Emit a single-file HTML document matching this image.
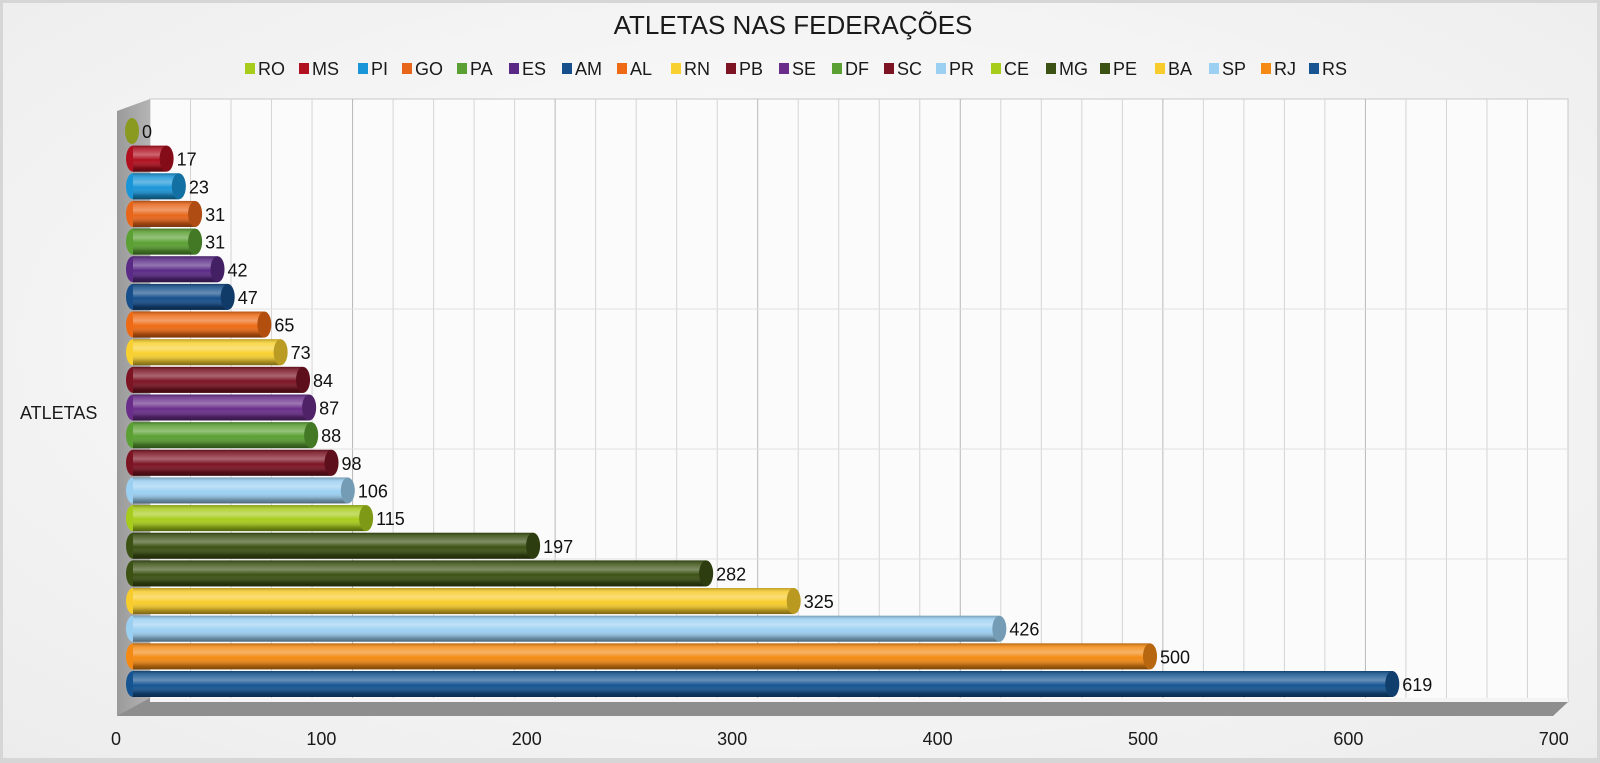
<!DOCTYPE html>
<html><head><meta charset="utf-8"><style>
html,body{margin:0;padding:0;width:1600px;height:763px;overflow:hidden;background:#fff}
svg{display:block;font-family:"Liberation Sans",sans-serif}
</style></head><body>
<svg width="1600" height="763" viewBox="0 0 1600 763" xmlns="http://www.w3.org/2000/svg">
<defs>
<radialGradient id="bg" cx="0.5" cy="0.45" r="0.75"><stop offset="0" stop-color="#ffffff"/><stop offset="1" stop-color="#ececec"/></radialGradient>
<linearGradient id="shade" x1="0" y1="0" x2="0" y2="1">
<stop offset="0" stop-color="#000" stop-opacity="0.25"/>
<stop offset="0.15" stop-color="#fff" stop-opacity="0.15"/>
<stop offset="0.35" stop-color="#fff" stop-opacity="0.35"/>
<stop offset="0.55" stop-color="#fff" stop-opacity="0"/>
<stop offset="0.85" stop-color="#000" stop-opacity="0.3"/>
<stop offset="1" stop-color="#000" stop-opacity="0.5"/>
</linearGradient>
<linearGradient id="side" x1="0" y1="0" x2="1" y2="0"><stop offset="0" stop-color="#9a9a9a"/><stop offset="1" stop-color="#b4b4b4"/></linearGradient>
</defs>
<rect x="0" y="0" width="1600" height="763" fill="#d6d6d6"/>
<rect x="3" y="3" width="1594" height="755" fill="url(#bg)"/>
<text x="793" y="34" text-anchor="middle" font-size="26" fill="#1a1a1a">ATLETAS NAS FEDERAÇÕES</text>
<g font-size="18" fill="#1a1a1a" id="legend"></g>
<rect x="150" y="99" width="1418" height="603" fill="#fbfbfb" stroke="#c8c8c8"/>
<g id="grid"></g>
<polygon points="117,111 150,99 150,702 117,716" fill="url(#side)"/>
<polygon points="150,698 1568,698 1568,702 1553,716 117,716" fill="#8e8e8e"/>
<rect x="150" y="698" width="1418" height="4" fill="#f4f4f4"/>
<g id="bars"></g>
<text x="20" y="419" font-size="18" fill="#1a1a1a">ATLETAS</text>
<g id="xl" font-size="18" fill="#1a1a1a" text-anchor="middle"></g>
</svg>
<script>
var NS="http://www.w3.org/2000/svg";
function el(t,a,p,txt){var e=document.createElementNS(NS,t);for(var k in a)e.setAttribute(k,a[k]);if(txt!=null)e.textContent=txt;p.appendChild(e);return e;}
var data=[["RO",0,"#a8cc1c","#8a9a20"],["MS",17,"#b01020"],["PI",23,"#1a96d8"],["GO",31,"#e8661a"],["PA",31,"#5aa032"],["ES",42,"#5a2a86"],["AM",47,"#164f8c"],["AL",65,"#ee6a14"],["RN",73,"#f8d030"],["PB",84,"#7c1424"],["SE",87,"#6a2e8a"],["DF",88,"#5aa032"],["SC",98,"#7c1424"],["PR",106,"#9cd0f2"],["CE",115,"#a8cc1c"],["MG",197,"#3c5214"],["PE",282,"#3c5214"],["BA",325,"#f8cc2c"],["SP",426,"#9cd0f2"],["RJ",500,"#f48a14"],["RS",619,"#165592"]];
var lx=[245,299,358,402,457,509,562,617,671,726,779,832,884,936,991,1046,1100,1155,1209,1261,1309];
var lg=document.getElementById("legend");
data.forEach(function(d,i){el("rect",{x:lx[i],y:63,width:10,height:11,fill:d[2]},lg);el("text",{x:lx[i]+13,y:75},lg,d[0]);});
var g=document.getElementById("grid");
for(var v=20;v<700;v+=20){var x=150+v*2.0257;el("line",{x1:x,y1:99,x2:x,y2:698,stroke:v%100==0?"#b8b8b8":"#d4d4d4","stroke-width":1},g);}
[309,449,559].forEach(function(y){el("line",{x1:150,y1:y,x2:1568,y2:y,stroke:"#e2e2e2"},g);});
var b=document.getElementById("bars");
data.forEach(function(d,i){
 var cy=131+i*27.65,h=26,top=cy-h/2,xs=126,xe=139+d[1]*2.036,rx=7;
 if(d[1]==0){el("ellipse",{cx:132,cy:cy,rx:7,ry:13,fill:d[3]||d[2]},b);}
 else{
 el("ellipse",{cx:xs+rx,cy:cy,rx:rx,ry:h/2,fill:d[2]},b);
 el("rect",{x:xs+rx,y:top,width:xe-rx-xs-rx,height:h,fill:d[2]},b);
 el("rect",{x:xs+rx,y:top,width:xe-rx-xs-rx,height:h,fill:"url(#shade)"},b);
 el("ellipse",{cx:xe-rx,cy:cy,rx:rx,ry:h/2,fill:d[2]},b);
 el("ellipse",{cx:xe-rx,cy:cy,rx:rx,ry:h/2,fill:"#000","fill-opacity":0.25},b);
 }
 el("text",{x:xe+3,y:cy+7,"font-size":18,fill:"#111"},b,String(d[1]));
});
var xl=document.getElementById("xl");
for(var k=0;k<=7;k++){el("text",{x:116+k*205.4,y:745},xl,String(k*100));}
</script>
</body></html>
